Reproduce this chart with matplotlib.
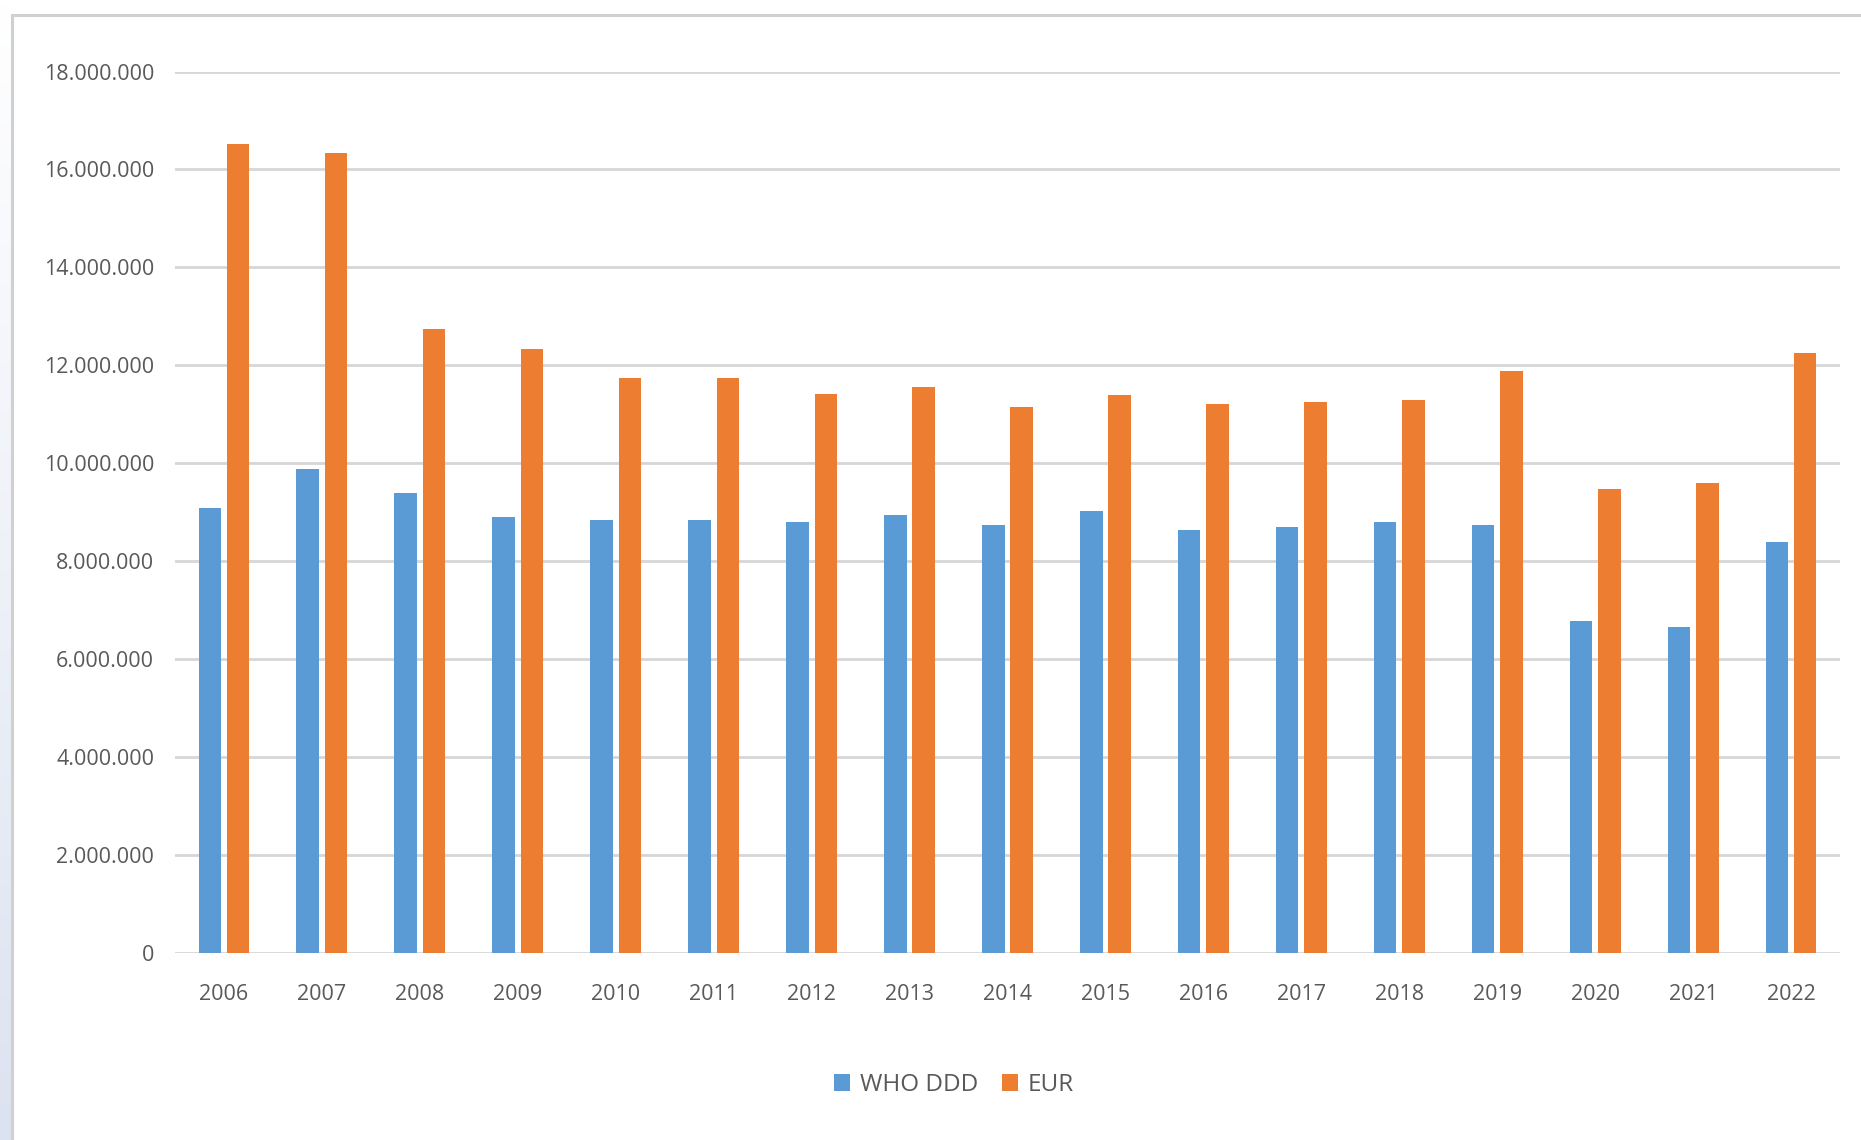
import matplotlib
matplotlib.use("Agg")
import matplotlib.pyplot as plt
import numpy as np
from matplotlib.patches import Rectangle, Patch
from matplotlib.ticker import FuncFormatter
from matplotlib.colors import LinearSegmentedColormap

years = ["2006", "2007", "2008", "2009", "2010", "2011", "2012", "2013", "2014",
         "2015", "2016", "2017", "2018", "2019", "2020", "2021", "2022"]
who_ddd = [9.10e6, 9.88e6, 9.39e6, 8.90e6, 8.84e6, 8.84e6, 8.80e6, 8.94e6, 8.75e6,
           9.03e6, 8.64e6, 8.70e6, 8.80e6, 8.75e6, 6.78e6, 6.67e6, 8.40e6]
eur = [16.53e6, 16.33e6, 12.74e6, 12.34e6, 11.74e6, 11.74e6, 11.41e6, 11.55e6, 11.15e6,
       11.40e6, 11.21e6, 11.25e6, 11.30e6, 11.89e6, 9.48e6, 9.59e6, 12.25e6]
series_names = ["WHO DDD", "EUR"]

BLUE = "#5B9BD5"
ORANGE = "#ED7D31"
TXT = "#595959"
GRID = "#D6D6D6"

plt.rcParams['font.family'] = ['Open Sans', 'DejaVu Sans']

W, H = 1861, 1140
fig = plt.figure(figsize=(W / 100, H / 100), dpi=100)
fig.patch.set_facecolor("white")

# left bluish strip (window background)
bg = fig.add_axes([0, 0, 12 / W, 1], zorder=-10)
grad = np.linspace(0, 1, 256).reshape(-1, 1)
cmap = LinearSegmentedColormap.from_list("g", ["#dce3f0", "#eef1f8", "#ffffff"])
bg.imshow(grad, aspect="auto", cmap=cmap, origin="lower", extent=[0, 1, 0, 1])
bg.set_axis_off()

# chart frame border
fig.patches.append(Rectangle((12 / W, -0.1), 1.2, (H - 15) / H + 0.1, transform=fig.transFigure,
                             facecolor="white", edgecolor="#D0D0D0", linewidth=2.2, zorder=-5))

ax = fig.add_axes([175 / W, (H - 953.3) / H, (1840 - 175) / W, (953.3 - 71.5) / H], zorder=1)
ax.set_facecolor("none")
x = np.arange(len(years))
bw = 0.23
off = 0.145
ax.bar(x - off, who_ddd, width=bw, color=BLUE, zorder=3)
ax.bar(x + off, eur, width=bw, color=ORANGE, zorder=3)

ax.set_xlim(-0.5, len(years) - 0.5)
ax.set_ylim(0, 18e6)
ax.set_yticks(np.arange(0, 18e6 + 1, 2e6))
ax.yaxis.set_major_formatter(FuncFormatter(lambda v, p: f"{int(round(v)):,}".replace(",", ".")))
ax.set_xticks(x)
ax.set_xticklabels(years)
ax.grid(axis="y", color=GRID, linewidth=2.0, zorder=0)
for s in ax.spines.values():
    s.set_visible(False)
ax.tick_params(axis="y", length=0, pad=15, labelsize=15.5, labelcolor=TXT)
ax.tick_params(axis="x", length=0, pad=22, labelsize=15.5, labelcolor=TXT)

handles = [Patch(facecolor=BLUE, edgecolor="none"), Patch(facecolor=ORANGE, edgecolor="none")]
fig.legend(handles, series_names, loc="center", bbox_to_anchor=(954 / W, 55 / H), ncol=2,
           frameon=False, fontsize=17.5, labelcolor=TXT, handlelength=0.65, handleheight=0.65,
           handletextpad=0.4, columnspacing=1.0)

fig.savefig("out.png", dpi=100)
